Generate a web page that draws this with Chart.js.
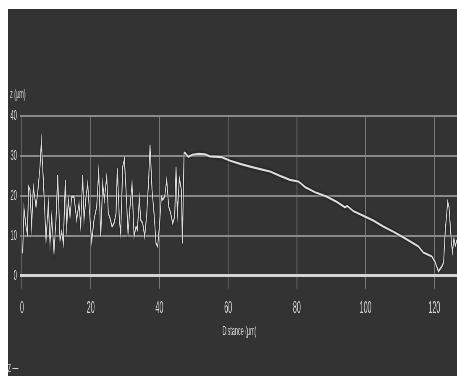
<!DOCTYPE html>
<html>
<head>
<meta charset="utf-8">
<script src="https://cdn.jsdelivr.net/npm/chart.js@4/dist/chart.umd.min.js"></script>
<style>
html, body { margin: 0; padding: 0; background: #ffffff; width: 457px; height: 376px; overflow: hidden; }
#panel { position: absolute; left: 8px; top: 9px; width: 449px; height: 367px; background: #333333; overflow: hidden; }
#squash { position: absolute; left: 0; top: 0; width: 1069px; height: 367px; transform: scaleX(0.42); transform-origin: 0 0; }
#profile { position: absolute; left: 0; top: 0; }
.lbl { position: absolute; color: #d6d6d6; font-family: "Liberation Sans", Arial, sans-serif; white-space: nowrap; }
#zLabel { left: 5px; top: 77px; font-size: 13px; line-height: 15px; }
#legendLabel { left: 0px; top: 350px; font-size: 14px; line-height: 16px; }
</style>
</head>
<body>
<div id="panel">
  <div id="squash">
    <canvas id="profile" width="1069" height="367"></canvas>
    <div class="lbl" id="zLabel">z (µm)</div>
    <div class="lbl" id="legendLabel">z —</div>
  </div>
</div>
<script>
// profile: distance (µm) and height z (µm)
var distance = [
  0.19, 0.58, 1.16, 1.55, 1.94, 2.33, 2.81, 3.30, 4.08, 4.56, 5.24, 5.63, 6.21, 6.99, 7.66, 8.15,
  8.64, 9.31, 9.90, 10.38, 11.06, 11.55, 12.03, 12.61, 13.00, 13.49, 13.97, 14.46, 15.14, 15.91,
  16.59, 17.08, 17.66, 18.05, 18.63, 19.12, 19.60, 20.28, 20.96, 21.74, 22.32, 22.90, 23.48, 23.97,
  24.65, 25.13, 25.62, 26.20, 26.78, 27.37, 27.75, 28.34, 28.72, 29.31, 29.79, 30.28, 30.86, 31.44,
  32.02, 32.61, 33.19, 33.58, 34.16, 34.55, 35.13, 35.71, 36.29, 36.87, 37.26, 37.84, 38.43, 39.01,
  39.49, 39.98, 40.56, 40.95, 41.53, 42.12, 42.70, 43.28, 43.86, 44.44, 44.83, 45.22, 45.80, 46.39,
  46.68, 47.16,
  47.4, 48.4, 49.6, 51.5, 53.3, 54.7, 58.1, 60.6, 63.5, 66.4, 69.3, 72.2, 75.1, 78.0, 80.4, 81.0,
  82.4, 85.3, 88.7, 91.6, 94.0, 94.6, 96.4, 99.4, 102.3, 105.2, 108.1, 111.0, 113.9, 115.4, 116.8,
  119.3, 120.2, 121.2, 122.2, 122.7, 123.2, 123.9, 124.3, 124.6, 125.0, 125.3, 125.7, 126.1, 126.6
];
var height = [
  5.6, 16.9, 12.3, 10.6, 22.3, 21.5, 12.3, 22.3, 17.3, 20.7, 27.3, 33.6, 24.0, 8.9, 18.1, 8.1,
  14.8, 6.0, 14.0, 25.2, 8.9, 11.0, 8.1, 24.0, 12.3, 19.0, 14.8, 19.8, 19.8, 14.0,
  18.1, 12.3, 25.2, 14.0, 19.8, 23.1, 16.5, 8.5, 14.0, 17.3, 26.1, 9.8, 23.1, 19.0,
  24.8, 15.6, 14.4, 12.3, 13.1, 15.6, 26.9, 14.0, 10.6, 27.3, 29.2, 21.5, 10.6, 17.3,
  23.1, 9.8, 12.3, 11.5, 19.4, 14.0, 13.1, 9.8, 15.2, 24.0, 32.8, 21.5, 15.6, 8.1,
  7.3, 12.3, 19.8, 19.0, 19.8, 24.0, 17.3, 15.6, 13.1, 14.8, 27.3, 15.6, 24.4, 21.5,
  8.1, 30.7,
  30.8, 29.8, 30.3, 30.5, 30.4, 29.9, 29.7, 28.8, 28.0, 27.3, 26.7, 26.1, 25.0, 24.0, 23.6, 23.2,
  22.2, 20.9, 19.8, 18.5, 17.1, 17.5, 16.2, 15.0, 13.8, 12.3, 11.0, 9.6, 8.1, 7.3, 5.8,
  4.8, 3.5, 1.1, 2.3, 3.3, 11.5, 18.5, 17.0, 13.1, 8.0, 6.0, 9.4, 7.5, 9.0
];
var xTicks = [0, 20, 40, 60, 80, 100, 120];
var yTicks = [0, 10, 20, 30, 40];

var points = distance.map(function(d, i) { return { x: d, y: height[i] }; });

var lineShadow = {
  id: 'lineShadow',
  beforeDatasetsDraw: function(chart) {
    var ctx = chart.ctx;
    ctx.save();
    ctx.shadowColor = 'rgba(0,0,0,0.85)';
    ctx.shadowBlur = 3;
  },
  afterDatasetsDraw: function(chart) {
    chart.ctx.restore();
  }
};

var tickFont = { family: '"Liberation Sans", Arial, sans-serif' };

new Chart(document.getElementById('profile'), {
  type: 'line',
  data: {
    datasets: [{
      label: 'z',
      data: points,
      borderColor: '#dddddd',
      borderWidth: 2.2,
      pointRadius: 0,
      tension: 0,
      fill: false
    }]
  },
  plugins: [lineShadow],
  options: {
    responsive: false,
    animation: false,
    events: [],
    layout: { padding: { top: 107, left: 0, right: 0, bottom: 0 } },
    plugins: { legend: { display: false }, tooltip: { enabled: false } },
    scales: {
      x: {
        type: 'linear',
        min: 0,
        max: 126.6,
        afterFit: function(s) { s.height = 100.3; },
        afterBuildTicks: function(s) { s.ticks = xTicks.map(function(v) { return { value: v }; }); },
        border: { display: false },
        grid: { color: '#777777', lineWidth: 2, tickLength: 13, tickColor: '#777777' },
        ticks: { color: '#d6d6d6', padding: 9, font: Object.assign({ size: 17 }, tickFont), maxRotation: 0, autoSkip: false },
        title: { display: true, text: 'Distance (µm)', color: '#d6d6d6', font: Object.assign({ size: 13 }, tickFont), padding: { top: 0, bottom: 37 } }
      },
      y: {
        type: 'linear',
        min: 0,
        max: 40,
        afterFit: function(s) { s.width = 33.3; },
        afterBuildTicks: function(s) { s.ticks = yTicks.map(function(v) { return { value: v }; }); },
        border: { display: false },
        grid: {
          color: function(c) { return c.tick && c.tick.value === 0 ? '#d4d4d4' : '#8a8a8a'; },
          lineWidth: function(c) { return c.tick && c.tick.value === 0 ? 3 : 2; },
          tickLength: 5
        },
        ticks: { color: '#d6d6d6', padding: 7, font: Object.assign({ size: 14 }, tickFont) }
      }
    }
  }
});
</script>
</body>
</html>
